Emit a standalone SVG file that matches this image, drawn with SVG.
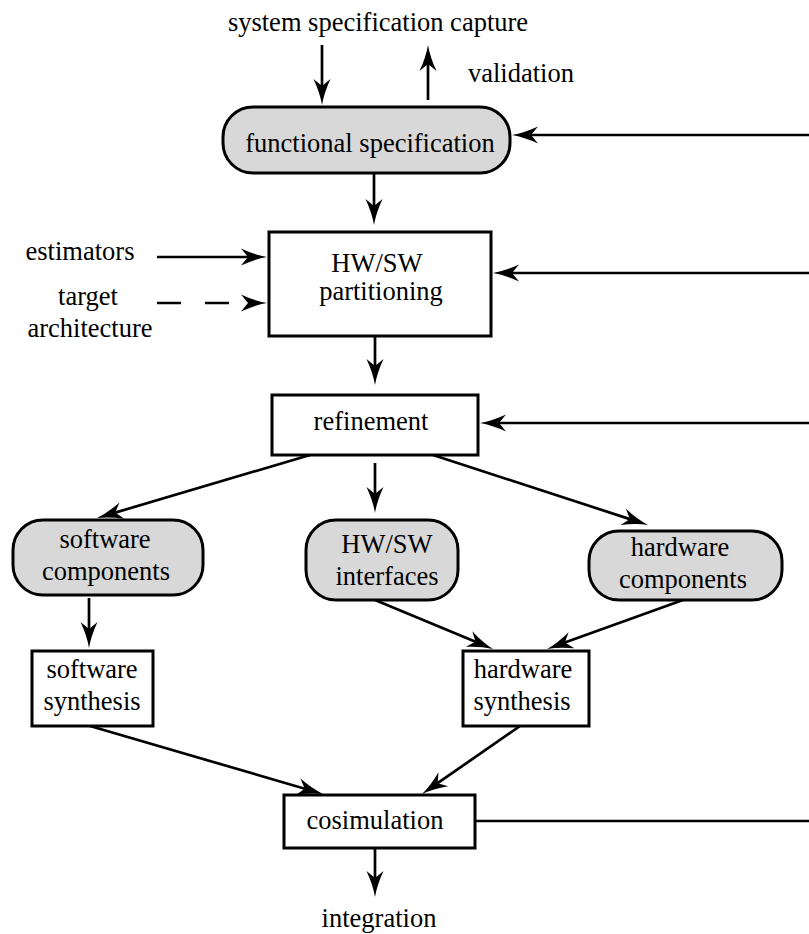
<svg xmlns="http://www.w3.org/2000/svg" width="809" height="934" viewBox="0 0 809 934">
<style>
text{font-family:"Liberation Serif","Times New Roman",serif;font-size:26.5px;fill:#000;text-anchor:middle}
.box{fill:#fff;stroke:#000;stroke-width:3}
.rbox{fill:#d8d8d8;stroke:#000;stroke-width:3}
.c{fill:none;stroke:#000;stroke-width:2.7}
.a{marker-end:url(#ah)}
.d{stroke-dasharray:24 24}
</style>
<defs>
<marker id="ah" markerUnits="userSpaceOnUse" viewBox="-8 -10 28 20" refX="0" refY="0" markerWidth="28" markerHeight="20" orient="auto" overflow="visible">
<path d="M19,0 Q7,-2 -7,-8.5 L0,0 L-7,8.5 Q7,2 19,0 Z" fill="#000"/>
</marker>
</defs>
<g id="connectors">
<path class="c a" d="M322,45 L322,86"/>
<path class="c a" d="M428,100 L428,64"/>
<path class="c a" d="M809,135 L531,135"/>
<path class="c a" d="M374,173 L374,206"/>
<path class="c a" d="M157,257 L248,257"/>
<path class="c d a" d="M157,303 L248,303"/>
<path class="c a" d="M809,273 L512,273"/>
<path class="c a" d="M375,336 L375,366"/>
<path class="c a" d="M809,423 L499,423"/>
<path class="c a" d="M310,455 L115.2,512.6"/>
<path class="c a" d="M375,463 L375,494"/>
<path class="c a" d="M433,455 L629.9,519.1"/>
<path class="c a" d="M89,598 L89,629"/>
<path class="c a" d="M375,600 L475.5,641.7"/>
<path class="c a" d="M683,600 L564.9,642.6"/>
<path class="c a" d="M90,726 L304.8,788.7"/>
<path class="c a" d="M520,726 L437.6,783.2"/>
<path class="c a" d="M375,848 L375,878"/>
<path class="c" d="M475,821 L809,821"/>
</g>
<g id="labels">
<text x="378" y="31">system specification capture</text>
<text x="521" y="82">validation</text>
<text x="80" y="260">estimators</text>
<text x="88" y="305">target</text>
<text x="90" y="337">architecture</text>
<text x="379" y="927">integration</text>
</g>
<g id="functional-specification">
<rect class="rbox" x="223" y="107" width="287" height="66" rx="30" ry="30"/>
<text x="370" y="152">functional specification</text>
</g>
<g id="hwsw-partitioning">
<rect class="box" x="269" y="232" width="222" height="104"/>
<text x="377" y="272">HW/SW</text>
<text x="381" y="300">partitioning</text>
</g>
<g id="refinement">
<rect class="box" x="272" y="395" width="206" height="60"/>
<text x="371" y="430">refinement</text>
</g>
<g id="software-components">
<rect class="rbox" x="13" y="520" width="190" height="75" rx="30" ry="30"/>
<text x="105" y="548">software</text>
<text x="106" y="580">components</text>
</g>
<g id="hwsw-interfaces">
<rect class="rbox" x="306" y="520" width="152" height="80" rx="30" ry="30"/>
<text x="387" y="553">HW/SW</text>
<text x="387" y="585">interfaces</text>
</g>
<g id="hardware-components">
<rect class="rbox" x="589" y="531" width="193" height="69" rx="30" ry="30"/>
<text x="680" y="556">hardware</text>
<text x="683" y="588">components</text>
</g>
<g id="software-synthesis">
<rect class="box" x="32" y="651" width="121" height="75"/>
<text x="92" y="678">software</text>
<text x="92" y="710">synthesis</text>
</g>
<g id="hardware-synthesis">
<rect class="box" x="463" y="651" width="126" height="75"/>
<text x="523" y="678">hardware</text>
<text x="522" y="710">synthesis</text>
</g>
<g id="cosimulation">
<rect class="box" x="284" y="795" width="191" height="53"/>
<text x="375" y="829">cosimulation</text>
</g>
</svg>
